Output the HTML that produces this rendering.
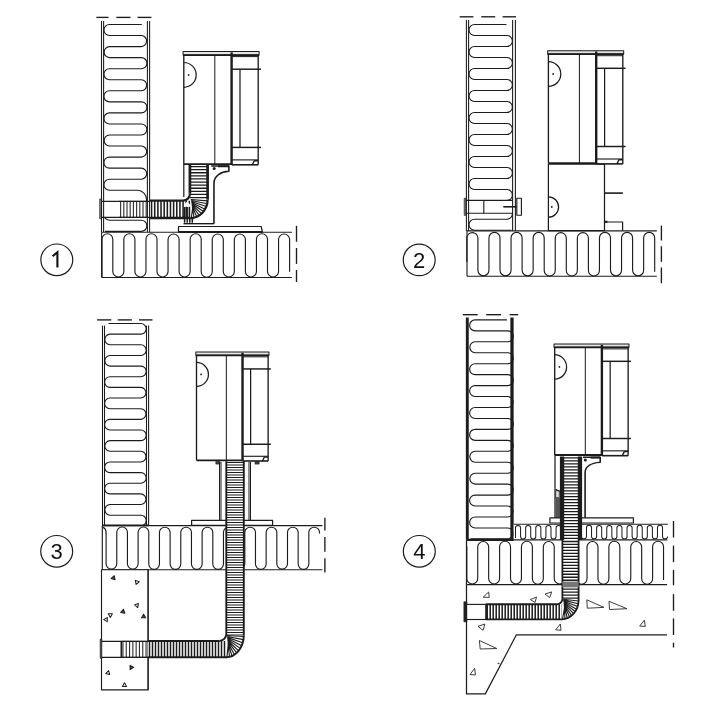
<!DOCTYPE html>
<html><head><meta charset="utf-8"><title>Installation diagrams</title>
<style>
html,body{margin:0;padding:0;background:#fff;}
body{width:721px;height:704px;overflow:hidden;font-family:"Liberation Sans",sans-serif;}
svg{display:block;will-change:transform;}
</style></head><body>
<svg width="721" height="704" viewBox="0 0 721 704" stroke-linecap="butt" stroke-linejoin="round">
<rect x="0" y="0" width="721" height="704" fill="#fff"/>
<line x1="96.4" y1="17.4" x2="108.5" y2="17.4" stroke="#1c1c1c" stroke-width="1.356" />
<line x1="116.3" y1="17.4" x2="130.5" y2="17.4" stroke="#1c1c1c" stroke-width="1.356" />
<line x1="137.6" y1="17.4" x2="151.4" y2="17.4" stroke="#1c1c1c" stroke-width="1.356" />
<path d="M141.8,24.5 H109.43 A5.52,5.52 0 0 0 109.43,35.55 H141.38 A5.53,5.53 0 0 1 141.38,46.6 H109.43 A5.53,5.53 0 0 0 109.43,57.65 H141.38 A5.52,5.52 0 0 1 141.38,68.7 H109.43 A5.52,5.52 0 0 0 109.43,79.75 H141.38 A5.53,5.53 0 0 1 141.38,90.8 H109.43 A5.52,5.52 0 0 0 109.43,101.85 H141.38 A5.52,5.52 0 0 1 141.38,112.9 H109.43 A5.52,5.52 0 0 0 109.43,123.95 H141.38 A5.52,5.52 0 0 1 141.38,135 H109.43 A5.53,5.53 0 0 0 109.43,146.05 H141.38 A5.53,5.53 0 0 1 141.38,157.1 H109.42 A5.52,5.52 0 0 0 109.42,168.15 H141.38 A5.53,5.53 0 0 1 141.38,179.2 H109.42 A5.52,5.52 0 0 0 109.42,190.25 H137.53 A9.38,9.38 0 0 1 137.53,209 H109.55 A5.65,5.65 0 0 0 109.55,220.3 H141.35 A5.55,5.55 0 0 1 141.35,231.4 H104.9" fill="none" stroke="#1c1c1c" stroke-width="1.13" />
<rect x="101.6" y="201.4" width="49" height="16" fill="#fff"/>
<path d="M120.6,201.4V217.4M123.8,201.4V217.4M127,201.4V217.4M130.2,201.4V217.4M133.4,201.4V217.4M136.6,201.4V217.4M139.8,201.4V217.4M143,201.4V217.4M146.2,201.4V217.4" fill="none" stroke="#333" stroke-width="1.13" />
<line x1="119" y1="201.4" x2="147.2" y2="201.4" stroke="#1c1c1c" stroke-width="1.13" />
<line x1="119" y1="217.4" x2="147.2" y2="217.4" stroke="#1c1c1c" stroke-width="1.13" />
<line x1="101.6" y1="201.4" x2="150" y2="201.4" stroke="#1c1c1c" stroke-width="1.13" />
<line x1="101.6" y1="217.4" x2="150" y2="217.4" stroke="#1c1c1c" stroke-width="1.13" />
<rect x="99.7" y="199" width="1.9" height="19.8" fill="#888" stroke="#1c1c1c" stroke-width="0.678"/>
<line x1="101.5" y1="20.9" x2="101.5" y2="232.3" stroke="#1c1c1c" stroke-width="1.073" />
<line x1="103.6" y1="20.9" x2="103.6" y2="232.3" stroke="#1c1c1c" stroke-width="1.073" />
<line x1="147.4" y1="20.9" x2="147.4" y2="232.3" stroke="#1c1c1c" stroke-width="1.073" />
<line x1="149.6" y1="20.9" x2="149.6" y2="232.3" stroke="#1c1c1c" stroke-width="1.073" />
<rect x="101.6" y="232.3" width="190.3" height="45.2" fill="#fff"/>
<path d="M102,277 V239.2 A5.4,5.4 0 0 1 112.8,239.2 V271.67 A5.53,5.53 0 0 0 123.85,271.67 V239.32 A5.52,5.52 0 0 1 134.9,239.32 V271.67 A5.53,5.53 0 0 0 145.95,271.67 V239.32 A5.52,5.52 0 0 1 157,239.32 V271.67 A5.53,5.53 0 0 0 168.05,271.67 V239.33 A5.53,5.53 0 0 1 179.1,239.33 V271.67 A5.53,5.53 0 0 0 190.15,271.67 V239.32 A5.52,5.52 0 0 1 201.2,239.32 V271.68 A5.52,5.52 0 0 0 212.25,271.68 V239.33 A5.53,5.53 0 0 1 223.3,239.33 V271.67 A5.53,5.53 0 0 0 234.35,271.67 V239.33 A5.53,5.53 0 0 1 245.4,239.33 V271.67 A5.53,5.53 0 0 0 256.45,271.67 V239.32 A5.52,5.52 0 0 1 267.5,239.32 V271.67 A5.53,5.53 0 0 0 278.55,271.67 V239.33 A5.53,5.53 0 0 1 289.6,239.33 V271.8" fill="none" stroke="#1c1c1c" stroke-width="1.13" />
<line x1="101.6" y1="232.3" x2="291.9" y2="232.3" stroke="#1c1c1c" stroke-width="1.13" />
<line x1="101.6" y1="277.5" x2="291.9" y2="277.5" stroke="#1c1c1c" stroke-width="1.13" />
<line x1="101.6" y1="232.3" x2="101.6" y2="277.5" stroke="#1c1c1c" stroke-width="1.13" />
<line x1="296.5" y1="225.8" x2="296.5" y2="241.7" stroke="#1c1c1c" stroke-width="1.356" />
<line x1="296.5" y1="248" x2="296.5" y2="263.9" stroke="#1c1c1c" stroke-width="1.356" />
<line x1="296.5" y1="270" x2="296.5" y2="282" stroke="#1c1c1c" stroke-width="1.356" />
<rect x="183.8" y="164" width="29.5" height="60" fill="#fff"/>
<line x1="183.8" y1="164" x2="183.8" y2="197" stroke="#1c1c1c" stroke-width="1.243" />
<path d="M211.2,166 H228.9 V171.3 C221,171.8 214,175.5 213.95,183.5 V223.7" fill="#fff" stroke="#1c1c1c" stroke-width="1.582" />
<line x1="218" y1="166.3" x2="228.9" y2="166.3" stroke="#1c1c1c" stroke-width="1.9" />
<circle cx="214.2" cy="168.6" r="1.5" fill="#1c1c1c"/>
<line x1="183.5" y1="223.7" x2="214" y2="223.7" stroke="#1c1c1c" stroke-width="1.356" />
<path d="M178.5,232 V226.5 H261.2 L262.4,232" fill="#fff" stroke="#1c1c1c" stroke-width="1.243" />
<line x1="178.5" y1="232" x2="262.4" y2="232" stroke="#1c1c1c" stroke-width="1.8" />
<rect x="150" y="200.7" width="40.3" height="17.3" fill="#fff" stroke="none"/>
<path d="M151.57,200.7V218M154.72,200.7V218M157.88,200.7V218M161.03,200.7V218M164.18,200.7V218M167.33,200.7V218M170.48,200.7V218M173.63,200.7V218M176.78,200.7V218M179.93,200.7V218M183.08,200.7V218M186.23,200.7V218M189.38,200.7V218" fill="none" stroke="#1c1c1c" stroke-width="1.55" />
<line x1="150" y1="200.7" x2="182.9" y2="200.7" stroke="#1c1c1c" stroke-width="2.3" />
<line x1="150" y1="218" x2="193.6" y2="218" stroke="#1c1c1c" stroke-width="2.3" />
<path d="M184.6,207 V222.8 M187.2,207 V222.8 M189.8,207 V222.8 M192.3,210 V222.8" fill="none" stroke="#1c1c1c" stroke-width="1.469" />
<rect x="189.9" y="165" width="17.7" height="34.8" fill="#fff" stroke="none"/>
<path d="M189.9,166.55H207.6M189.9,169.65H207.6M189.9,172.75H207.6M189.9,175.85H207.6M189.9,178.95H207.6M189.9,182.05H207.6M189.9,185.15H207.6M189.9,188.25H207.6M189.9,191.35H207.6M189.9,194.45H207.6M189.9,197.55H207.6" fill="none" stroke="#1c1c1c" stroke-width="1.299" />
<line x1="189.9" y1="165" x2="189.9" y2="193.7" stroke="#1c1c1c" stroke-width="2.7" />
<line x1="207.6" y1="165" x2="207.6" y2="199.8" stroke="#1c1c1c" stroke-width="2.7" />
<path d="M190.3,199.8 L207.6,199.8 A17.3,18.2 0 0 1 190.3,218 Z" fill="#fff" stroke="none" stroke-width="0" />
<path d="M190.8,199.5L207.57,200.83M191,200.5L207.19,203.75M191.2,201.5L206.36,206.56M191.4,202.5L205.12,209.2M191.6,203.5L203.48,211.59M191.8,204.5L201.5,213.67M192,205.5L199.23,215.39M192.2,206.5L196.73,216.7M192.4,207.5L194.05,217.57M192.6,208.5L191.28,217.97" fill="none" stroke="#1c1c1c" stroke-width="1.13" />
<path d="M207.6,199.8 A17.3,18.2 0 0 1 190.3,218" fill="none" stroke="#1c1c1c" stroke-width="2.2" />
<path d="M189.9,193.7 A7,7 0 0 1 182.9,200.7" fill="none" stroke="#1c1c1c" stroke-width="2.2" />
<path d="M187.03,201.4 L190.5,204.9 V206.7 H184.16 V204.9 Z" fill="#fff" stroke="none" stroke-width="0" />
<rect x="183.8" y="51.4" width="74.4" height="113" fill="#fff" stroke="none"/>
<rect x="183.1" y="51.6" width="76" height="3.3" fill="#e4e4e4" stroke="#1c1c1c" stroke-width="1.017"/>
<line x1="183.1" y1="55.1" x2="259.1" y2="55.1" stroke="#1c1c1c" stroke-width="1.7" />
<line x1="183.8" y1="54.9" x2="183.8" y2="164.1" stroke="#1c1c1c" stroke-width="1.356" />
<line x1="214.8" y1="54.9" x2="214.8" y2="164.1" stroke="#1c1c1c" stroke-width="1.017" />
<line x1="231.6" y1="52.4" x2="231.6" y2="165" stroke="#1c1c1c" stroke-width="2.4" />
<line x1="231.6" y1="56.6" x2="258.2" y2="56.6" stroke="#1c1c1c" stroke-width="1.017" />
<line x1="258.2" y1="55.4" x2="258.2" y2="164.8" stroke="#1c1c1c" stroke-width="1.356" />
<line x1="231.8" y1="69.2" x2="261" y2="69.2" stroke="#1c1c1c" stroke-width="1.469" />
<line x1="240" y1="69.2" x2="240" y2="147.4" stroke="#1c1c1c" stroke-width="1.243" />
<line x1="231.8" y1="147.4" x2="261" y2="147.4" stroke="#1c1c1c" stroke-width="1.469" />
<line x1="231.8" y1="159.9" x2="258.2" y2="159.9" stroke="#1c1c1c" stroke-width="1.13" />
<line x1="231.8" y1="164.8" x2="258.2" y2="164.8" stroke="#1c1c1c" stroke-width="1.6" />
<path d="M252.3,164.8 L254.3,160.7 L258.2,160.7" fill="none" stroke="#1c1c1c" stroke-width="1.356" />
<line x1="183.8" y1="164.1" x2="231.6" y2="164.1" stroke="#1c1c1c" stroke-width="1.8" />
<path d="M183.8,62.5 A12.4,12.4 0 0 1 183.8,87.3" fill="none" stroke="#1c1c1c" stroke-width="1.243" />
<circle cx="188.6" cy="74.9" r="0.9" fill="#1c1c1c"/>
<ellipse cx="56.8" cy="259.8" rx="15.95" ry="15.8" fill="#fff" stroke="#1c1c1c" stroke-width="1.2"/>
<path d="M52.6,256.3 L57.4,252.2 V267.6" fill="none" stroke="#111" stroke-width="2.1" stroke-linejoin="miter" stroke-miterlimit="10"/>
<line x1="459.7" y1="16.8" x2="473.4" y2="16.8" stroke="#1c1c1c" stroke-width="1.356" />
<line x1="481.25" y1="16.8" x2="495.2" y2="16.8" stroke="#1c1c1c" stroke-width="1.356" />
<line x1="502.6" y1="16.8" x2="516" y2="16.8" stroke="#1c1c1c" stroke-width="1.356" />
<path d="M506.5,24.5 H474.5 A5.5,5.5 0 0 0 474.5,35.5 H506.9 A5.5,5.5 0 0 1 506.9,46.5 H474.5 A5.5,5.5 0 0 0 474.5,57.5 H506.9 A5.5,5.5 0 0 1 506.9,68.5 H474.5 A5.5,5.5 0 0 0 474.5,79.5 H506.9 A5.5,5.5 0 0 1 506.9,90.5 H474.5 A5.5,5.5 0 0 0 474.5,101.5 H506.9 A5.5,5.5 0 0 1 506.9,112.5 H474.5 A5.5,5.5 0 0 0 474.5,123.5 H506.9 A5.5,5.5 0 0 1 506.9,134.5 H474.5 A5.5,5.5 0 0 0 474.5,145.5 H506.9 A5.5,5.5 0 0 1 506.9,156.5 H474.5 A5.5,5.5 0 0 0 474.5,167.5 H506.9 A5.5,5.5 0 0 1 506.9,178.5 H474.5 A5.5,5.5 0 0 0 474.5,189.5 H506.9 A5.5,5.5 0 0 1 506.9,200.5 H473 A4,4 0 0 0 473,208.5 H507.05 A5.35,5.35 0 0 1 507.05,219.2 H474.55 A5.55,5.55 0 0 0 474.55,230.3 H511.4" fill="none" stroke="#1c1c1c" stroke-width="1.13" />
<rect x="465.9" y="200.4" width="47" height="12.8" fill="#fff"/>
<line x1="465.9" y1="200.4" x2="512.9" y2="200.4" stroke="#1c1c1c" stroke-width="1.13" />
<line x1="465.9" y1="213.2" x2="512.9" y2="213.2" stroke="#1c1c1c" stroke-width="1.13" />
<line x1="483.8" y1="200.4" x2="483.8" y2="213.2" stroke="#1c1c1c" stroke-width="1.13" />
<rect x="464.2" y="198.3" width="1.8" height="17" fill="#888" stroke="#1c1c1c" stroke-width="0.678"/>
<line x1="466.4" y1="19.9" x2="466.4" y2="231" stroke="#1c1c1c" stroke-width="1.073" />
<line x1="468.6" y1="19.9" x2="468.6" y2="231" stroke="#1c1c1c" stroke-width="1.073" />
<line x1="512.6" y1="19.9" x2="512.6" y2="231" stroke="#1c1c1c" stroke-width="1.073" />
<line x1="515.4" y1="19.9" x2="515.4" y2="231" stroke="#1c1c1c" stroke-width="1.073" />
<line x1="503.3" y1="206.8" x2="516.8" y2="206.8" stroke="#1c1c1c" stroke-width="1.6" />
<rect x="516.8" y="198.3" width="4.6" height="17" fill="#fff" stroke="#1c1c1c" stroke-width="1.13"/>
<rect x="467" y="230.9" width="189.8" height="45.4" fill="#fff"/>
<path d="M466.85,262 V237.93 A5.53,5.53 0 0 1 477.9,237.93 V270.48 A5.53,5.53 0 0 0 488.95,270.48 V237.92 A5.52,5.52 0 0 1 500,237.92 V270.47 A5.53,5.53 0 0 0 511.05,270.47 V237.92 A5.52,5.52 0 0 1 522.1,237.92 V270.47 A5.53,5.53 0 0 0 533.15,270.47 V237.92 A5.52,5.52 0 0 1 544.2,237.92 V270.48 A5.52,5.52 0 0 0 555.25,270.48 V237.93 A5.53,5.53 0 0 1 566.3,237.93 V270.48 A5.52,5.52 0 0 0 577.35,270.48 V237.93 A5.53,5.53 0 0 1 588.4,237.93 V270.48 A5.52,5.52 0 0 0 599.45,270.48 V237.92 A5.52,5.52 0 0 1 610.5,237.92 V270.47 A5.53,5.53 0 0 0 621.55,270.47 V237.92 A5.52,5.52 0 0 1 632.6,237.92 V270.47 A5.53,5.53 0 0 0 643.65,270.47 V237.92 A5.52,5.52 0 0 1 654.7,237.92 V271.8" fill="none" stroke="#1c1c1c" stroke-width="1.13" />
<line x1="467" y1="230.9" x2="656.8" y2="230.9" stroke="#1c1c1c" stroke-width="1.13" />
<line x1="467" y1="276.3" x2="656.8" y2="276.3" stroke="#1c1c1c" stroke-width="1.13" />
<line x1="467" y1="230.9" x2="467" y2="276.3" stroke="#1c1c1c" stroke-width="1.13" />
<line x1="661.4" y1="225.6" x2="661.4" y2="240.5" stroke="#1c1c1c" stroke-width="1.356" />
<line x1="661.4" y1="246.2" x2="661.4" y2="261.8" stroke="#1c1c1c" stroke-width="1.356" />
<line x1="661.4" y1="267.5" x2="661.4" y2="283.2" stroke="#1c1c1c" stroke-width="1.356" />
<rect x="548.4" y="164.1" width="56.1" height="66.5" fill="#fff" stroke="#1c1c1c" stroke-width="1.243"/>
<line x1="604.5" y1="193.1" x2="622.9" y2="193.1" stroke="#1c1c1c" stroke-width="1.6" />
<path d="M604.5,222 H622.6 V230.6" fill="none" stroke="#1c1c1c" stroke-width="1.243" />
<line x1="604.5" y1="221.8" x2="607.5" y2="221.8" stroke="#1c1c1c" stroke-width="2.0" />
<path d="M548.4,196.8 A10.2,10.2 0 0 1 548.4,217.2" fill="none" stroke="#1c1c1c" stroke-width="1.243" />
<circle cx="551.8" cy="207" r="0.9" fill="#1c1c1c"/>
<rect x="548.4" y="50.5" width="74.4" height="113" fill="#fff" stroke="none"/>
<rect x="547.7" y="50.7" width="76" height="3.3" fill="#e4e4e4" stroke="#1c1c1c" stroke-width="1.017"/>
<line x1="547.7" y1="54.2" x2="623.7" y2="54.2" stroke="#1c1c1c" stroke-width="1.7" />
<line x1="548.4" y1="54" x2="548.4" y2="163.2" stroke="#1c1c1c" stroke-width="1.356" />
<line x1="579.4" y1="54" x2="579.4" y2="163.2" stroke="#1c1c1c" stroke-width="1.017" />
<line x1="596.2" y1="51.5" x2="596.2" y2="164.1" stroke="#1c1c1c" stroke-width="2.4" />
<line x1="596.2" y1="55.7" x2="622.8" y2="55.7" stroke="#1c1c1c" stroke-width="1.017" />
<line x1="622.8" y1="54.5" x2="622.8" y2="163.9" stroke="#1c1c1c" stroke-width="1.356" />
<line x1="596.4" y1="68.3" x2="625.6" y2="68.3" stroke="#1c1c1c" stroke-width="1.469" />
<line x1="604.6" y1="68.3" x2="604.6" y2="146.5" stroke="#1c1c1c" stroke-width="1.243" />
<line x1="596.4" y1="146.5" x2="625.6" y2="146.5" stroke="#1c1c1c" stroke-width="1.469" />
<line x1="596.4" y1="159" x2="622.8" y2="159" stroke="#1c1c1c" stroke-width="1.13" />
<line x1="596.4" y1="163.9" x2="622.8" y2="163.9" stroke="#1c1c1c" stroke-width="1.6" />
<path d="M616.9,163.9 L618.9,159.8 L622.8,159.8" fill="none" stroke="#1c1c1c" stroke-width="1.356" />
<line x1="548.4" y1="163.2" x2="596.2" y2="163.2" stroke="#1c1c1c" stroke-width="1.8" />
<path d="M548.4,61.6 A12.4,12.4 0 0 1 548.4,86.4" fill="none" stroke="#1c1c1c" stroke-width="1.243" />
<circle cx="553.2" cy="74" r="0.9" fill="#1c1c1c"/>
<ellipse cx="419.2" cy="259.9" rx="15.95" ry="15.8" fill="#fff" stroke="#1c1c1c" stroke-width="1.2"/>
<text x="419.2" y="267.7" font-family="Liberation Sans, sans-serif" font-size="22" text-anchor="middle" fill="#111" style="opacity:0.999">2</text>
<line x1="97.1" y1="319.9" x2="111.3" y2="319.9" stroke="#1c1c1c" stroke-width="1.356" />
<line x1="117.7" y1="319.9" x2="131.9" y2="319.9" stroke="#1c1c1c" stroke-width="1.356" />
<line x1="139" y1="319.9" x2="152.5" y2="319.9" stroke="#1c1c1c" stroke-width="1.356" />
<path d="M108.5,323.5 H140.88 A5.32,5.32 0 0 1 140.88,334.15 H109.93 A5.33,5.33 0 0 0 109.93,344.8 H140.88 A5.32,5.32 0 0 1 140.88,355.45 H109.93 A5.33,5.33 0 0 0 109.93,366.1 H140.88 A5.32,5.32 0 0 1 140.88,376.75 H109.92 A5.32,5.32 0 0 0 109.92,387.4 H140.87 A5.33,5.33 0 0 1 140.87,398.05 H109.92 A5.32,5.32 0 0 0 109.92,408.7 H140.87 A5.33,5.33 0 0 1 140.87,419.35 H109.92 A5.32,5.32 0 0 0 109.92,430 H140.88 A5.32,5.32 0 0 1 140.88,440.65 H109.93 A5.33,5.33 0 0 0 109.93,451.3 H140.87 A5.33,5.33 0 0 1 140.87,461.95 H109.92 A5.32,5.32 0 0 0 109.92,472.6 H140.88 A5.32,5.32 0 0 1 140.88,483.25 H109.92 A5.32,5.32 0 0 0 109.92,493.9 H140.87 A5.33,5.33 0 0 1 140.87,504.55 H109.93 A5.33,5.33 0 0 0 109.93,515.2 H140.88 A5.32,5.32 0 0 1 140.88,525.85 H105.6" fill="none" stroke="#1c1c1c" stroke-width="1.13" />
<line x1="102.5" y1="325.6" x2="102.5" y2="525.6" stroke="#1c1c1c" stroke-width="1.073" />
<line x1="104.5" y1="325.6" x2="104.5" y2="525.6" stroke="#1c1c1c" stroke-width="1.073" />
<line x1="146.5" y1="325.6" x2="146.5" y2="525.6" stroke="#1c1c1c" stroke-width="1.073" />
<line x1="148.6" y1="325.6" x2="148.6" y2="525.6" stroke="#1c1c1c" stroke-width="1.073" />
<rect x="102.3" y="525.6" width="220" height="44.2" fill="#fff"/>
<path d="M106.1,533 V564.06 A5.34,5.34 0 0 0 116.77,564.06 V532.34 A5.33,5.33 0 0 1 127.44,532.34 V564.06 A5.34,5.34 0 0 0 138.11,564.06 V532.34 A5.33,5.33 0 0 1 148.78,532.34 V564.06 A5.33,5.33 0 0 0 159.45,564.06 V532.34 A5.34,5.34 0 0 1 170.12,532.34 V564.06 A5.33,5.33 0 0 0 180.79,564.06 V532.34 A5.34,5.34 0 0 1 191.46,532.34 V564.06 A5.33,5.33 0 0 0 202.13,564.06 V532.34 A5.34,5.34 0 0 1 212.8,532.34 V564.06 A5.33,5.33 0 0 0 223.47,564.06 V532.34 A5.33,5.33 0 0 1 234.14,532.34 V564.06 A5.34,5.34 0 0 0 244.81,564.06 V532.34 A5.34,5.34 0 0 1 255.48,532.34 V564.07 A5.33,5.33 0 0 0 266.15,564.07 V532.34 A5.34,5.34 0 0 1 276.82,532.34 V564.06 A5.34,5.34 0 0 0 287.49,564.06 V532.34 A5.34,5.34 0 0 1 298.16,532.34 V564.07 A5.33,5.33 0 0 0 308.83,564.07 V532.34 A5.34,5.34 0 0 1 319.5,532.34 V533.5" fill="none" stroke="#1c1c1c" stroke-width="1.13" />
<path d="M102.4,527.4 C104.8,527.6 106.1,530 106.1,533.5" fill="none" stroke="#1c1c1c" stroke-width="1.13" />
<line x1="102.3" y1="525.6" x2="322.4" y2="525.6" stroke="#1c1c1c" stroke-width="1.13" />
<line x1="102.3" y1="569.8" x2="322.4" y2="569.8" stroke="#1c1c1c" stroke-width="1.13" />
<line x1="102.3" y1="525.6" x2="102.3" y2="569.8" stroke="#1c1c1c" stroke-width="1.13" />
<line x1="102.3" y1="525.4" x2="148.5" y2="525.4" stroke="#1c1c1c" stroke-width="1.8" />
<line x1="324.9" y1="517.8" x2="324.9" y2="530.5" stroke="#1c1c1c" stroke-width="1.356" />
<line x1="324.9" y1="536.9" x2="324.9" y2="551.8" stroke="#1c1c1c" stroke-width="1.356" />
<line x1="324.9" y1="558.2" x2="324.9" y2="572.4" stroke="#1c1c1c" stroke-width="1.356" />
<rect x="101.5" y="569.8" width="46.6" height="120.1" fill="#fff" stroke="#1c1c1c" stroke-width="1.13"/>
<path d="M114.32,575.74 L115.04,579.84 L111.14,578.42Z" fill="#555" stroke="#1c1c1c" stroke-width="1.017" />
<path d="M136.08,584.46 L135.36,580.36 L139.26,581.78Z" fill="none" stroke="#1c1c1c" stroke-width="1.017" />
<path d="M138.44,603.46 L137.72,607.56 L134.54,604.88Z" fill="none" stroke="#1c1c1c" stroke-width="1.017" />
<path d="M123.42,609.24 L124.84,613.14 L120.74,612.42Z" fill="#555" stroke="#1c1c1c" stroke-width="1.017" />
<path d="M112.38,613.8 L110.3,617.4 L108.22,613.8Z" fill="none" stroke="#1c1c1c" stroke-width="1.017" />
<path d="M107.3,617.52 L107.3,621.68 L103.7,619.6Z" fill="none" stroke="#1c1c1c" stroke-width="1.017" />
<path d="M143.6,614.2 L145.68,617.8 L141.52,617.8Z" fill="#555" stroke="#1c1c1c" stroke-width="1.017" />
<path d="M133.7,667.4 L130.1,669.48 L130.1,665.32Z" fill="#555" stroke="#1c1c1c" stroke-width="1.017" />
<path d="M108.62,670.58 L109.7,674.6 L105.68,673.52Z" fill="none" stroke="#1c1c1c" stroke-width="1.017" />
<path d="M124.5,682.8 L126.58,686.4 L122.42,686.4Z" fill="none" stroke="#1c1c1c" stroke-width="1.017" />
<rect x="101.5" y="641.4" width="48" height="16" fill="#fff"/>
<path d="M122.95,641.4V657.4M126.25,641.4V657.4M129.55,641.4V657.4M132.85,641.4V657.4M136.15,641.4V657.4M139.45,641.4V657.4M142.75,641.4V657.4M146.05,641.4V657.4" fill="none" stroke="#333" stroke-width="1.13" />
<line x1="121.3" y1="641.4" x2="148" y2="641.4" stroke="#1c1c1c" stroke-width="1.13" />
<line x1="121.3" y1="657.4" x2="148" y2="657.4" stroke="#1c1c1c" stroke-width="1.13" />
<line x1="101.5" y1="641.4" x2="148" y2="641.4" stroke="#1c1c1c" stroke-width="1.13" />
<line x1="101.5" y1="657.4" x2="148" y2="657.4" stroke="#1c1c1c" stroke-width="1.13" />
<line x1="121.3" y1="641.4" x2="121.3" y2="657.4" stroke="#1c1c1c" stroke-width="1.582" />
<rect x="100.2" y="639.1" width="1.6" height="19.1" fill="#555" stroke="#1c1c1c" stroke-width="0.678"/>
<line x1="148.1" y1="569.8" x2="148.1" y2="689.9" stroke="#1c1c1c" stroke-width="1.13" />
<rect x="215.8" y="461.5" width="4.2" height="2.6" fill="#444" stroke="#1c1c1c" stroke-width="0.565"/>
<rect x="255" y="461.5" width="4.2" height="2.6" fill="#444" stroke="#1c1c1c" stroke-width="0.565"/>
<line x1="219.5" y1="462" x2="219.5" y2="520" stroke="#1c1c1c" stroke-width="1.017" />
<line x1="221" y1="462" x2="221" y2="520" stroke="#1c1c1c" stroke-width="1.017" />
<line x1="249" y1="462" x2="249" y2="520" stroke="#1c1c1c" stroke-width="1.017" />
<line x1="250.5" y1="462" x2="250.5" y2="520" stroke="#1c1c1c" stroke-width="1.017" />
<rect x="191.6" y="520.4" width="81" height="4.9" fill="#fff" stroke="#1c1c1c" stroke-width="1.243"/>
<rect x="226.3" y="461.25" width="17.5" height="174.05" fill="#fff" stroke="none"/>
<path d="M226.3,462.5H243.8M226.3,465H243.8M226.3,467.5H243.8M226.3,470H243.8M226.3,472.5H243.8M226.3,475H243.8M226.3,477.5H243.8M226.3,480H243.8M226.3,482.5H243.8M226.3,485H243.8M226.3,487.5H243.8M226.3,490H243.8M226.3,492.5H243.8M226.3,495H243.8M226.3,497.5H243.8M226.3,500H243.8M226.3,502.5H243.8M226.3,505H243.8M226.3,507.5H243.8M226.3,510H243.8M226.3,512.5H243.8M226.3,515H243.8M226.3,517.5H243.8M226.3,520H243.8M226.3,522.5H243.8M226.3,525H243.8M226.3,527.5H243.8M226.3,530H243.8M226.3,532.5H243.8M226.3,535H243.8M226.3,537.5H243.8M226.3,540H243.8M226.3,542.5H243.8M226.3,545H243.8M226.3,547.5H243.8M226.3,550H243.8M226.3,552.5H243.8M226.3,555H243.8M226.3,557.5H243.8M226.3,560H243.8M226.3,562.5H243.8M226.3,565H243.8M226.3,567.5H243.8M226.3,570H243.8M226.3,572.5H243.8M226.3,575H243.8M226.3,577.5H243.8M226.3,580H243.8M226.3,582.5H243.8M226.3,585H243.8M226.3,587.5H243.8M226.3,590H243.8M226.3,592.5H243.8M226.3,595H243.8M226.3,597.5H243.8M226.3,600H243.8M226.3,602.5H243.8M226.3,605H243.8M226.3,607.5H243.8M226.3,610H243.8M226.3,612.5H243.8M226.3,615H243.8M226.3,617.5H243.8M226.3,620H243.8M226.3,622.5H243.8M226.3,625H243.8M226.3,627.5H243.8M226.3,630H243.8M226.3,632.5H243.8M226.3,635H243.8" fill="none" stroke="#1c1c1c" stroke-width="1.13" />
<line x1="226.3" y1="461.25" x2="226.3" y2="634" stroke="#1c1c1c" stroke-width="1.9" />
<line x1="243.8" y1="461.25" x2="243.8" y2="635.3" stroke="#1c1c1c" stroke-width="1.9" />
<rect x="148" y="640.95" width="78.3" height="16.35" fill="#fff" stroke="none"/>
<path d="M149.5,640.95V657.3M152.5,640.95V657.3M155.5,640.95V657.3M158.5,640.95V657.3M161.5,640.95V657.3M164.5,640.95V657.3M167.5,640.95V657.3M170.5,640.95V657.3M173.5,640.95V657.3M176.5,640.95V657.3M179.5,640.95V657.3M182.5,640.95V657.3M185.5,640.95V657.3M188.5,640.95V657.3M191.5,640.95V657.3M194.5,640.95V657.3M197.5,640.95V657.3M200.5,640.95V657.3M203.5,640.95V657.3M206.5,640.95V657.3M209.5,640.95V657.3M212.5,640.95V657.3M215.5,640.95V657.3M218.5,640.95V657.3M221.5,640.95V657.3M224.5,640.95V657.3" fill="none" stroke="#1c1c1c" stroke-width="1.5" />
<line x1="148" y1="640.95" x2="219.3" y2="640.95" stroke="#1c1c1c" stroke-width="2.0" />
<line x1="148" y1="657.3" x2="227" y2="657.3" stroke="#1c1c1c" stroke-width="2.0" />
<path d="M226,635.3 L243.8,635.3 A17.8,22 0 0 1 226,657.3 Z" fill="#fff" stroke="none" stroke-width="0" />
<path d="M226.9,635.5L243.78,636.43M227.03,636.45L243.45,639.63M227.16,637.4L242.75,642.74M227.29,638.35L241.69,645.69M227.42,639.3L240.29,648.41M227.55,640.25L238.59,650.86M227.68,641.2L236.61,652.96M227.81,642.15L234.41,654.69M227.94,643.1L232.02,656M228.07,644.05L229.5,656.87M228.2,645L226.91,657.27" fill="none" stroke="#1c1c1c" stroke-width="1.13" />
<path d="M243.8,635.3 A17.8,22 0 0 1 226,657.3" fill="none" stroke="#1c1c1c" stroke-width="1.9" />
<path d="M226.3,633.95 A7,7 0 0 1 219.3,640.95" fill="none" stroke="#1c1c1c" stroke-width="1.9" />
<rect x="196.5" y="351.8" width="71.65" height="108.82" fill="#fff" stroke="none"/>
<rect x="195.83" y="351.99" width="73.19" height="3.18" fill="#e4e4e4" stroke="#1c1c1c" stroke-width="1.017"/>
<line x1="195.83" y1="355.36" x2="269.01" y2="355.36" stroke="#1c1c1c" stroke-width="1.7" />
<line x1="196.5" y1="355.17" x2="196.5" y2="460.33" stroke="#1c1c1c" stroke-width="1.356" />
<line x1="226.35" y1="355.17" x2="226.35" y2="460.33" stroke="#1c1c1c" stroke-width="1.017" />
<line x1="242.53" y1="352.76" x2="242.53" y2="461.2" stroke="#1c1c1c" stroke-width="2.4" />
<line x1="242.53" y1="356.81" x2="268.15" y2="356.81" stroke="#1c1c1c" stroke-width="1.017" />
<line x1="268.15" y1="355.65" x2="268.15" y2="461" stroke="#1c1c1c" stroke-width="1.356" />
<line x1="242.72" y1="368.94" x2="270.84" y2="368.94" stroke="#1c1c1c" stroke-width="1.469" />
<line x1="250.62" y1="368.94" x2="250.62" y2="444.25" stroke="#1c1c1c" stroke-width="1.243" />
<line x1="242.72" y1="444.25" x2="270.84" y2="444.25" stroke="#1c1c1c" stroke-width="1.469" />
<line x1="242.72" y1="456.29" x2="268.15" y2="456.29" stroke="#1c1c1c" stroke-width="1.13" />
<line x1="242.72" y1="461" x2="268.15" y2="461" stroke="#1c1c1c" stroke-width="1.6" />
<path d="M262.47,461 L264.39,457.06 L268.15,457.06" fill="none" stroke="#1c1c1c" stroke-width="1.356" />
<line x1="196.5" y1="460.33" x2="242.53" y2="460.33" stroke="#1c1c1c" stroke-width="1.8" />
<path d="M196.5,362.49 A11.94,11.94 0 0 1 196.5,386.37" fill="none" stroke="#1c1c1c" stroke-width="1.243" />
<circle cx="201.12" cy="374.43" r="0.9" fill="#1c1c1c"/>
<ellipse cx="56.7" cy="551.3" rx="15.95" ry="15.8" fill="#fff" stroke="#1c1c1c" stroke-width="1.2"/>
<text x="56.7" y="559.1" font-family="Liberation Sans, sans-serif" font-size="22" text-anchor="middle" fill="#111" style="opacity:0.999">3</text>
<line x1="462.8" y1="314.7" x2="477.7" y2="314.7" stroke="#1c1c1c" stroke-width="1.356" />
<line x1="486.2" y1="314.7" x2="501.1" y2="314.7" stroke="#1c1c1c" stroke-width="1.356" />
<line x1="509.7" y1="314.7" x2="518.2" y2="314.7" stroke="#1c1c1c" stroke-width="1.356" />
<path d="M507,319.9 H475.08 A5.47,5.47 0 0 0 475.08,330.85 H507.82 A5.47,5.47 0 0 1 507.82,341.8 H475.08 A5.48,5.48 0 0 0 475.08,352.75 H507.82 A5.47,5.47 0 0 1 507.82,363.7 H475.08 A5.47,5.47 0 0 0 475.08,374.65 H507.82 A5.47,5.47 0 0 1 507.82,385.6 H475.08 A5.47,5.47 0 0 0 475.08,396.55 H507.82 A5.48,5.48 0 0 1 507.82,407.5 H475.08 A5.47,5.47 0 0 0 475.08,418.45 H507.82 A5.47,5.47 0 0 1 507.82,429.4 H475.08 A5.47,5.47 0 0 0 475.08,440.35 H507.82 A5.47,5.47 0 0 1 507.82,451.3 H475.08 A5.48,5.48 0 0 0 475.08,462.25 H507.82 A5.47,5.47 0 0 1 507.82,473.2 H475.08 A5.48,5.48 0 0 0 475.08,484.15 H507.82 A5.47,5.47 0 0 1 507.82,495.1 H475.08 A5.47,5.47 0 0 0 475.08,506.05 H507.82 A5.48,5.48 0 0 1 507.82,517 H475.07 A5.47,5.47 0 0 0 475.07,527.95 H507.82 A5.48,5.48 0 0 1 507.82,538.9 H470.6" fill="none" stroke="#1c1c1c" stroke-width="1.13" />
<line x1="467.3" y1="317.5" x2="467.3" y2="539.6" stroke="#1c1c1c" stroke-width="2.9" />
<line x1="512" y1="317.5" x2="512" y2="539.6" stroke="#1c1c1c" stroke-width="3.3" />
<rect x="513.8" y="524.2" width="154" height="15.5" fill="#fff"/>
<path d="M515.5,538 V527.84 A2.54,2.54 0 0 1 520.57,527.84 V536.47 A2.53,2.53 0 0 0 525.64,536.47 V527.84 A2.54,2.54 0 0 1 530.71,527.84 V536.47 A2.53,2.53 0 0 0 535.78,536.47 V527.84 A2.54,2.54 0 0 1 540.85,527.84 V536.47 A2.53,2.53 0 0 0 545.92,536.47 V527.84 A2.54,2.54 0 0 1 550.99,527.84 V536.47 A2.53,2.53 0 0 0 556.06,536.47 V527.84 A2.54,2.54 0 0 1 561.13,527.84 V536.46 A2.54,2.54 0 0 0 566.2,536.46 V527.83 A2.53,2.53 0 0 1 571.27,527.83 V536.46 A2.54,2.54 0 0 0 576.34,536.46 V527.83 A2.53,2.53 0 0 1 581.41,527.83 V536.46 A2.54,2.54 0 0 0 586.48,536.46 V527.83 A2.53,2.53 0 0 1 591.55,527.83 V536.46 A2.54,2.54 0 0 0 596.62,536.46 V527.84 A2.54,2.54 0 0 1 601.69,527.84 V536.47 A2.53,2.53 0 0 0 606.76,536.47 V527.84 A2.54,2.54 0 0 1 611.83,527.84 V536.47 A2.53,2.53 0 0 0 616.9,536.47 V527.84 A2.54,2.54 0 0 1 621.97,527.84 V536.47 A2.53,2.53 0 0 0 627.04,536.47 V527.84 A2.54,2.54 0 0 1 632.11,527.84 V536.46 A2.54,2.54 0 0 0 637.18,536.46 V527.83 A2.53,2.53 0 0 1 642.25,527.83 V536.47 A2.53,2.53 0 0 0 647.32,536.47 V527.84 A2.54,2.54 0 0 1 652.39,527.84 V536.46 A2.54,2.54 0 0 0 657.46,536.46 V527.83 A2.53,2.53 0 0 1 662.53,527.83 V536.46 A2.54,2.54 0 0 0 667.6,536.46" fill="none" stroke="#1c1c1c" stroke-width="1.017" />
<line x1="513.8" y1="524.2" x2="667.8" y2="524.2" stroke="#1c1c1c" stroke-width="1.13" />
<rect x="466.6" y="540" width="200.5" height="44.6" fill="#fff"/>
<path d="M466.8,546 V578.74 A5.47,5.47 0 0 0 477.73,578.74 V546.76 A5.47,5.47 0 0 1 488.66,546.76 V578.74 A5.47,5.47 0 0 0 499.59,578.74 V546.76 A5.46,5.46 0 0 1 510.52,546.76 V578.74 A5.47,5.47 0 0 0 521.45,578.74 V546.76 A5.46,5.46 0 0 1 532.38,546.76 V578.74 A5.46,5.46 0 0 0 543.31,578.74 V546.76 A5.47,5.47 0 0 1 554.24,546.76 V578.74 A5.47,5.47 0 0 0 565.17,578.74 V546.76 A5.46,5.46 0 0 1 576.1,546.76 V578.74 A5.46,5.46 0 0 0 587.03,578.74 V546.76 A5.47,5.47 0 0 1 597.96,546.76 V578.74 A5.46,5.46 0 0 0 608.89,578.74 V546.76 A5.46,5.46 0 0 1 619.82,546.76 V578.74 A5.47,5.47 0 0 0 630.75,578.74 V546.76 A5.47,5.47 0 0 1 641.68,546.76 V578.74 A5.46,5.46 0 0 0 652.61,578.74 V546.76 A5.46,5.46 0 0 1 663.54,546.76 V580" fill="none" stroke="#1c1c1c" stroke-width="1.13" />
<line x1="466.5" y1="539.8" x2="466.5" y2="584.6" stroke="#1c1c1c" stroke-width="1.243" />
<line x1="466.6" y1="539.8" x2="513.8" y2="539.8" stroke="#1c1c1c" stroke-width="2.2" />
<line x1="513.8" y1="539.8" x2="667.3" y2="539.8" stroke="#1c1c1c" stroke-width="1.243" />
<line x1="466.6" y1="584.6" x2="667.1" y2="584.6" stroke="#1c1c1c" stroke-width="1.13" />
<path d="M466.5,584.6 V693.9 H485.3 L516.4,634.8 H667" fill="none" stroke="#1c1c1c" stroke-width="1.243" />
<path d="M483.2,597.2 L488.6,592 L489.3,597.4Z" fill="none" stroke="#333" stroke-width="0.96" />
<path d="M530.3,599.6 L536.5,597 L535.1,602.5Z" fill="none" stroke="#333" stroke-width="0.96" />
<path d="M545,594 L551.8,591.9 L549.6,597.6Z" fill="none" stroke="#333" stroke-width="0.96" />
<path d="M478,626.4 L484.8,624 L483.1,630.3Z" fill="none" stroke="#333" stroke-width="0.96" />
<path d="M555.6,629.8 L560.3,624 L561,630.3Z" fill="none" stroke="#333" stroke-width="0.96" />
<path d="M479.4,640.5 L480.2,649 L496.8,648.5Z" fill="none" stroke="#333" stroke-width="0.96" />
<path d="M470,674.6 L474.6,668.3 L475.5,674.9Z" fill="none" stroke="#333" stroke-width="0.96" />
<path d="M639.7,626.1 L644.3,620.2 L645.3,626.4Z" fill="none" stroke="#333" stroke-width="0.96" />
<path d="M586.8,599.8 L587.3,608.2 L603.9,607.4Z" fill="none" stroke="#333" stroke-width="0.96" />
<path d="M609,601.3 L609.5,609.5 L626.9,608.7Z" fill="none" stroke="#333" stroke-width="0.96" />
<line x1="497.8" y1="662.8" x2="499.4" y2="664.2" stroke="#1c1c1c" stroke-width="1.017" />
<line x1="673.5" y1="521" x2="673.5" y2="537.5" stroke="#1c1c1c" stroke-width="1.356" />
<line x1="673.5" y1="545.6" x2="673.5" y2="562.2" stroke="#1c1c1c" stroke-width="1.356" />
<line x1="673.5" y1="569.9" x2="673.5" y2="585.2" stroke="#1c1c1c" stroke-width="1.356" />
<line x1="673.5" y1="594.1" x2="673.5" y2="610.8" stroke="#1c1c1c" stroke-width="1.356" />
<line x1="673.5" y1="618.4" x2="673.5" y2="635" stroke="#1c1c1c" stroke-width="1.356" />
<line x1="673.5" y1="642.7" x2="673.5" y2="647.5" stroke="#1c1c1c" stroke-width="1.356" />
<rect x="466.9" y="604.4" width="90" height="15.1" fill="#fff"/>
<line x1="466.9" y1="604.4" x2="486" y2="604.4" stroke="#1c1c1c" stroke-width="1.13" />
<line x1="466.9" y1="619.5" x2="486" y2="619.5" stroke="#1c1c1c" stroke-width="1.13" />
<rect x="463.9" y="601.8" width="2.9" height="20" fill="#222" stroke="#1c1c1c" stroke-width="0.678"/>
<rect x="485.7" y="604.3" width="76.7" height="15.1" fill="#fff" stroke="none"/>
<path d="M487.2,604.3V619.4M490.2,604.3V619.4M493.2,604.3V619.4M496.2,604.3V619.4M499.2,604.3V619.4M502.2,604.3V619.4M505.2,604.3V619.4M508.2,604.3V619.4M511.2,604.3V619.4M514.2,604.3V619.4M517.2,604.3V619.4M520.2,604.3V619.4M523.2,604.3V619.4M526.2,604.3V619.4M529.2,604.3V619.4M532.2,604.3V619.4M535.2,604.3V619.4M538.2,604.3V619.4M541.2,604.3V619.4M544.2,604.3V619.4M547.2,604.3V619.4M550.2,604.3V619.4M553.2,604.3V619.4M556.2,604.3V619.4M559.2,604.3V619.4M562.2,604.3V619.4" fill="none" stroke="#1c1c1c" stroke-width="1.5" />
<line x1="485.7" y1="604.3" x2="556.9" y2="604.3" stroke="#1c1c1c" stroke-width="1.9" />
<line x1="485.7" y1="619.4" x2="562.5" y2="619.4" stroke="#1c1c1c" stroke-width="1.9" />
<line x1="486.2" y1="604.4" x2="486.2" y2="619.5" stroke="#1c1c1c" stroke-width="2.0" />
<rect x="555" y="455" width="30" height="63" fill="#fff"/>
<line x1="555" y1="455.3" x2="555" y2="518" stroke="#1c1c1c" stroke-width="1.243" />
<path d="M583,457.2 H600.2 V462.2 C593,462.7 585.1,465.5 585.1,472.6 V517.9" fill="#fff" stroke="#1c1c1c" stroke-width="1.582" />
<line x1="590.5" y1="457.6" x2="600.2" y2="457.6" stroke="#1c1c1c" stroke-width="2.0" />
<circle cx="585.3" cy="460.1" r="1.5" fill="#1c1c1c"/>
<rect x="555.7" y="490.6" width="3.6" height="7.1" fill="#ddd" stroke="#1c1c1c" stroke-width="0.791"/>
<line x1="555.7" y1="489.2" x2="559.9" y2="491.6" stroke="#1c1c1c" stroke-width="1.017" />
<rect x="555.4" y="497.7" width="4.6" height="20.3" fill="#555"/>
<rect x="549.9" y="517.9" width="83.5" height="5.1" fill="#fff" stroke="#1c1c1c" stroke-width="1.243"/>
<rect x="562.05" y="456.5" width="17.9" height="83.5" fill="#fff" stroke="none"/>
<path d="M562.05,457.99H579.95M562.05,460.97H579.95M562.05,463.95H579.95M562.05,466.93H579.95M562.05,469.91H579.95M562.05,472.89H579.95M562.05,475.87H579.95M562.05,478.85H579.95M562.05,481.83H579.95M562.05,484.81H579.95M562.05,487.79H579.95M562.05,490.77H579.95M562.05,493.75H579.95M562.05,496.73H579.95M562.05,499.71H579.95M562.05,502.69H579.95M562.05,505.67H579.95M562.05,508.65H579.95M562.05,511.63H579.95M562.05,514.61H579.95M562.05,517.59H579.95M562.05,520.57H579.95M562.05,523.55H579.95M562.05,526.53H579.95M562.05,529.51H579.95M562.05,532.49H579.95M562.05,535.47H579.95M562.05,538.45H579.95" fill="none" stroke="#1c1c1c" stroke-width="1.243" />
<line x1="562.05" y1="456.5" x2="562.05" y2="540" stroke="#1c1c1c" stroke-width="4.3" />
<line x1="579.95" y1="456.5" x2="579.95" y2="540" stroke="#1c1c1c" stroke-width="4.3" />
<rect x="562.4" y="540" width="16.2" height="60" fill="#fff" stroke="none"/>
<path d="M562.4,541.49H578.6M562.4,544.47H578.6M562.4,547.45H578.6M562.4,550.43H578.6M562.4,553.41H578.6M562.4,556.39H578.6M562.4,559.37H578.6M562.4,562.35H578.6M562.4,565.33H578.6M562.4,568.31H578.6M562.4,571.29H578.6M562.4,574.27H578.6M562.4,577.25H578.6M562.4,580.23H578.6M562.4,583.21H578.6M562.4,586.19H578.6M562.4,589.17H578.6M562.4,592.15H578.6M562.4,595.13H578.6M562.4,598.11H578.6M562.4,601.09H578.6" fill="none" stroke="#1c1c1c" stroke-width="1.299" />
<line x1="562.4" y1="540" x2="562.4" y2="598.8" stroke="#1c1c1c" stroke-width="1.8" />
<line x1="578.6" y1="540" x2="578.6" y2="600" stroke="#1c1c1c" stroke-width="1.8" />
<rect x="562.4" y="581.6" width="16.2" height="5.8" fill="#777"/>
<path d="M561.6,600 L578.6,600 A17,19.4 0 0 1 561.6,619.4 Z" fill="#fff" stroke="none" stroke-width="0" />
<path d="M563,599.3L578.58,601M563.16,600.12L578.27,603.82M563.32,600.94L577.6,606.56M563.48,601.76L576.59,609.16M563.64,602.58L575.25,611.56M563.8,603.4L573.62,613.72M563.96,604.22L571.73,615.58M564.12,605.04L569.63,617.1M564.28,605.86L567.35,618.26M564.44,606.68L564.95,619.02M564.6,607.5L562.47,619.37" fill="none" stroke="#1c1c1c" stroke-width="1.13" />
<path d="M578.6,600 A17,19.4 0 0 1 561.6,619.4" fill="none" stroke="#1c1c1c" stroke-width="1.8" />
<path d="M562.4,598.8 A5.5,5.5 0 0 1 556.9,604.3" fill="none" stroke="#1c1c1c" stroke-width="1.8" />
<rect x="554.7" y="343.75" width="73.43" height="111.53" fill="#fff" stroke="none"/>
<rect x="554.01" y="343.95" width="75.01" height="3.26" fill="#e4e4e4" stroke="#1c1c1c" stroke-width="1.017"/>
<line x1="554.01" y1="347.4" x2="629.02" y2="347.4" stroke="#1c1c1c" stroke-width="1.7" />
<line x1="554.7" y1="347.2" x2="554.7" y2="454.98" stroke="#1c1c1c" stroke-width="1.356" />
<line x1="585.3" y1="347.2" x2="585.3" y2="454.98" stroke="#1c1c1c" stroke-width="1.017" />
<line x1="601.88" y1="344.74" x2="601.88" y2="455.87" stroke="#1c1c1c" stroke-width="2.4" />
<line x1="601.88" y1="348.88" x2="628.13" y2="348.88" stroke="#1c1c1c" stroke-width="1.017" />
<line x1="628.13" y1="347.7" x2="628.13" y2="455.68" stroke="#1c1c1c" stroke-width="1.356" />
<line x1="602.08" y1="361.32" x2="630.9" y2="361.32" stroke="#1c1c1c" stroke-width="1.469" />
<line x1="610.17" y1="361.32" x2="610.17" y2="438.5" stroke="#1c1c1c" stroke-width="1.243" />
<line x1="602.08" y1="438.5" x2="630.9" y2="438.5" stroke="#1c1c1c" stroke-width="1.469" />
<line x1="602.08" y1="450.84" x2="628.13" y2="450.84" stroke="#1c1c1c" stroke-width="1.13" />
<line x1="602.08" y1="455.68" x2="628.13" y2="455.68" stroke="#1c1c1c" stroke-width="1.6" />
<path d="M622.31,455.68 L624.28,451.63 L628.13,451.63" fill="none" stroke="#1c1c1c" stroke-width="1.356" />
<line x1="554.7" y1="454.98" x2="601.88" y2="454.98" stroke="#1c1c1c" stroke-width="1.8" />
<path d="M554.7,354.71 A12.24,12.24 0 0 1 554.7,379.18" fill="none" stroke="#1c1c1c" stroke-width="1.243" />
<circle cx="559.44" cy="366.94" r="0.9" fill="#1c1c1c"/>
<ellipse cx="419.3" cy="551.3" rx="15.95" ry="15.8" fill="#fff" stroke="#1c1c1c" stroke-width="1.2"/>
<text x="419.3" y="559.1" font-family="Liberation Sans, sans-serif" font-size="22" text-anchor="middle" fill="#111" style="opacity:0.999">4</text>
</svg>
</body></html>
